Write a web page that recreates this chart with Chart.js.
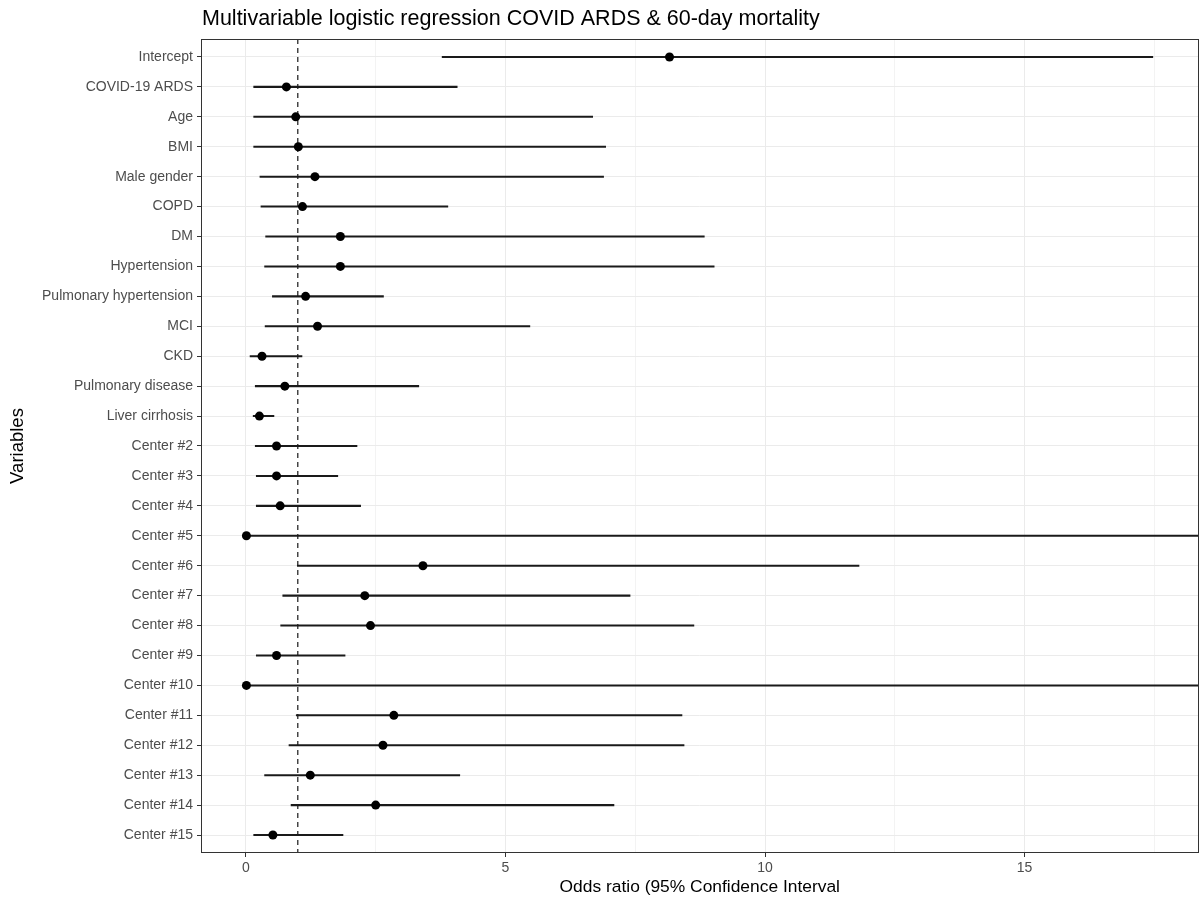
<!DOCTYPE html>
<html><head><meta charset="utf-8">
<script src="https://cdn.jsdelivr.net/npm/chart.js@4.4.0/dist/chart.umd.min.js"></script>
<style>html,body{margin:0;padding:0;background:#fff;overflow:hidden}#wrap{width:1203px;height:903px}</style>
</head><body><div id="wrap"><canvas id="c" width="1203" height="903"></canvas></div>
<script>
const variables = ['Intercept','COVID-19 ARDS','Age','BMI','Male gender','COPD','DM','Hypertension','Pulmonary hypertension','MCI','CKD','Pulmonary disease','Liver cirrhosis','Center #2','Center #3','Center #4','Center #5','Center #6','Center #7','Center #8','Center #9','Center #10','Center #11','Center #12','Center #13','Center #14','Center #15'];
const oddsRatio = [8.16,0.78,0.96,1.01,1.33,1.09,1.82,1.82,1.15,1.38,0.31,0.75,0.26,0.59,0.59,0.66,0.01,3.41,2.29,2.40,0.59,0.01,2.85,2.64,1.24,2.50,0.52];
const ciLower   = [3.78,0.15,0.15,0.15,0.27,0.29,0.38,0.36,0.51,0.37,0.08,0.18,0.14,0.18,0.20,0.20,0.00,0.99,0.71,0.67,0.20,0.00,0.97,0.83,0.36,0.87,0.15];
const ciUpper   = [17.47,4.07,6.68,6.93,6.89,3.89,8.83,9.02,2.65,5.47,1.08,3.33,0.54,2.14,1.77,2.21,30.0,11.81,7.40,8.63,1.91,30.0,8.40,8.44,4.12,7.09,1.87];
const xMajorTicks = [0,5,10,15];
const xTickLabels = ['0','5','10','15'];
const xMinorTicks = [2.5,7.5,12.5,17.5];
const referenceOR = 1;
const titleText = 'Multivariable logistic regression COVID ARDS & 60-day mortality';
const xTitle = 'Odds ratio (95% Confidence Interval';
const yTitle = 'Variables';

const FONT = "'Liberation Sans', Arial, Helvetica, sans-serif";
const nRows = variables.length;

const titlePlugin = {
  id: 'leftTitle',
  afterDraw(chart) {
    const c = chart.ctx, a = chart.chartArea;
    c.save();
    c.font = '21.5px ' + FONT;
    c.fillStyle = '#000';
    c.textBaseline = 'middle';
    c.textAlign = 'left';
    c.fillText(titleText, a.left + 1, 19);
    c.restore();
  }
};
const borderPlugin = {
  id: 'panelBorder',
  afterDatasetsDraw(chart) {
    const c = chart.ctx, a = chart.chartArea;
    c.save();
    c.strokeStyle = '#333333';
    c.lineWidth = 1;
    c.strokeRect(Math.round(a.left) + 0.5, Math.round(a.top) + 0.5, Math.round(a.right - a.left) - 1, Math.round(a.bottom - a.top) - 1);
    c.restore();
  }
};

new Chart(document.getElementById('c'), {
  data: {
    datasets: [
      {
        type: 'scatter', label: 'Odds ratio',
        data: variables.map((v, i) => ({ x: oddsRatio[i], y: i + 1 })),
        pointRadius: 4.5, pointBackgroundColor: '#000', pointBorderColor: '#000', pointBorderWidth: 0,
        clip: false
      },
      {
        type: 'bar', label: '95% CI', indexAxis: 'y',
        data: variables.map((v, i) => ({ x: [ciLower[i], ciUpper[i]], y: i + 1 })),
        backgroundColor: '#1a1a1a', borderWidth: 0, barThickness: 1.4, grouped: false
      },
      {
        type: 'line', label: 'Reference',
        data: [{ x: referenceOR, y: 0.4 }, { x: referenceOR, y: nRows + 0.6 }],
        borderColor: '#000', borderWidth: 1.1, borderDash: [5, 4], pointRadius: 0, fill: false
      }
    ]
  },
  options: {
    responsive: false,
    devicePixelRatio: 1,
    animation: false,
    layout: { padding: { top: 39, right: 2, bottom: 0, left: 0 } },
    plugins: { legend: { display: false }, tooltip: { enabled: false }, title: { display: false } },
    scales: {
      x: {
        type: 'linear', min: -0.865, max: 18.35, offset: false,
        afterBuildTicks: s => {
          s.ticks = xMajorTicks.concat(xMinorTicks).sort((a, b) => a - b).map(v => ({ value: v }));
        },
        afterFit: s => { s.height = 50; },
        ticks: {
          autoSkip: false, maxRotation: 0, color: '#4d4d4d', padding: 3,
          font: { family: FONT, size: 14 },
          callback: v => { const k = xMajorTicks.indexOf(v); return k >= 0 ? xTickLabels[k] : ''; }
        },
        grid: {
          offset: false,
          color: c => (c.tick && xMajorTicks.includes(c.tick.value)) ? '#ebebeb' : '#f3f3f3',
          tickColor: c => (c.tick && xMajorTicks.includes(c.tick.value)) ? '#333333' : 'rgba(0,0,0,0)',
          tickLength: 4, lineWidth: 1
        },
        border: { display: false },
        title: { display: true, text: xTitle, color: '#000', font: { family: FONT, size: 17.4 }, padding: { top: 0, bottom: 5 } }
      },
      y: {
        type: 'linear', reverse: true, min: 0.4, max: nRows + 0.6, offset: false,
        afterBuildTicks: s => { s.ticks = variables.map((v, i) => ({ value: i + 1 })); },
        afterFit: s => { s.width = 201; },
        ticks: {
          autoSkip: false, color: '#4d4d4d', padding: 4,
          font: { family: FONT, size: 14 },
          callback: v => variables[v - 1]
        },
        grid: { offset: false, color: '#ebebeb', tickColor: '#333333', tickLength: 4, lineWidth: 1 },
        border: { display: false },
        title: { display: true, text: yTitle, color: '#000', font: { family: FONT, size: 18.5 }, padding: { top: 7, bottom: 0 } }
      }
    }
  },
  plugins: [titlePlugin, borderPlugin]
});
</script>
</body></html>
